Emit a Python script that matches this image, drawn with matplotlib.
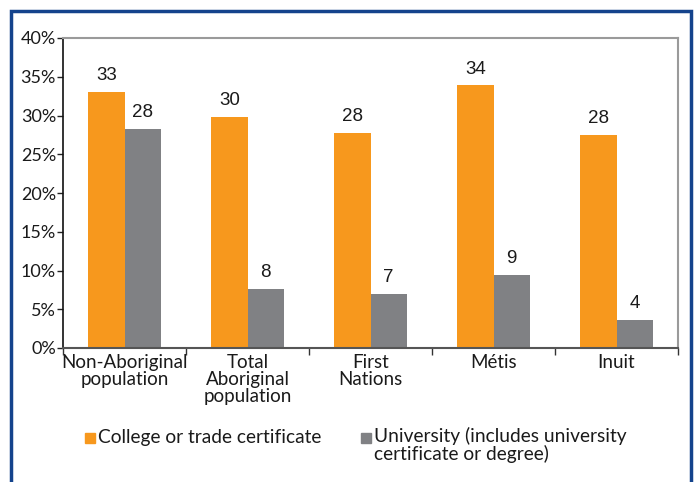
import matplotlib
matplotlib.use("Agg")
import matplotlib.pyplot as plt
from matplotlib.patches import Rectangle
import numpy as np

categories = ["Non-Aboriginal\npopulation", "Total\nAboriginal\npopulation", "First\nNations", "Métis", "Inuit"]
college = [33.0, 29.8, 27.8, 33.9, 27.5]
university = [28.3, 7.6, 7.0, 9.4, 3.6]
college_labels = ["33", "30", "28", "34", "28"]
university_labels = ["28", "8", "7", "9", "4"]
series_names = ["College or trade certificate", "University (includes university\ncertificate or degree)"]
yticks = [0, 5, 10, 15, 20, 25, 30, 35, 40]

ORANGE = "#F7981D"
GREY = "#808184"
BLUE = "#14438C"
TXT = "#1a1a1a"

W, H = 694, 482
fig = plt.figure(figsize=(W / 100, H / 100), dpi=100)

# outer blue frame
fig.patches.append(Rectangle((11 / W, -0.05), (691 - 11) / W, (H - 11) / H + 0.05,
                             transform=fig.transFigure, fill=False, edgecolor=BLUE, linewidth=2.5))

ax = fig.add_axes([63 / W, 1 - 348 / H, (678 - 63) / W, (348 - 38) / H])
x = np.arange(len(categories))
bw = 0.293
ax.bar(x - bw / 2, college, bw, color=ORANGE, zorder=2)
ax.bar(x + bw / 2, university, bw, color=GREY, zorder=2)

lab_font = dict(family="Liberation Sans", fontsize=13.5, color=TXT)
for i in range(len(categories)):
    ax.text(x[i] - bw / 2, college[i] + 1.0, college_labels[i], ha="center", va="bottom", **lab_font)
    ax.text(x[i] + bw / 2, university[i] + 1.0, university_labels[i], ha="center", va="bottom", **lab_font)

ax.set_xlim(-0.5, len(categories) - 0.5)
ax.set_ylim(0, 40)
ax.set_yticks(yticks)
ax.set_yticklabels([f"{v}%" for v in yticks], family="Lato", fontsize=13, color=TXT)
ax.set_xticks(x)
ax.set_xticklabels(categories, family="Lato", fontsize=13.5, color=TXT, linespacing=1.0)
ax.tick_params(axis="x", length=0, pad=4)
ax.set_xticks(np.arange(-0.5, len(categories) + 0.5, 1), minor=True)
ax.tick_params(axis="x", which="minor", length=5, width=1, color="#333333")
ax.tick_params(axis="y", length=4, width=1, color="#222222", pad=1)

for s in ["top", "right"]:
    ax.spines[s].set_color("#9a9a9a")
    ax.spines[s].set_linewidth(1.5)
ax.spines["left"].set_color("#111111")
ax.spines["left"].set_linewidth(1.2)
ax.spines["bottom"].set_color("#555555")
ax.spines["bottom"].set_linewidth(1.5)

# legend
fig.patches.append(Rectangle((85 / W, 1 - 443 / H), 10 / W, 10 / H, transform=fig.transFigure, color=ORANGE))
fig.text(98 / W, 1 - 437 / H, series_names[0], family="Lato", fontsize=13.8, color=TXT, va="center")
fig.patches.append(Rectangle((361 / W, 1 - 443 / H), 10 / W, 10 / H, transform=fig.transFigure, color=GREY))
fig.text(374 / W, 1 - 427 / H, series_names[1], family="Lato", fontsize=13.8, color=TXT, va="top", linespacing=1.0)

fig.savefig("out.png", dpi=100)
